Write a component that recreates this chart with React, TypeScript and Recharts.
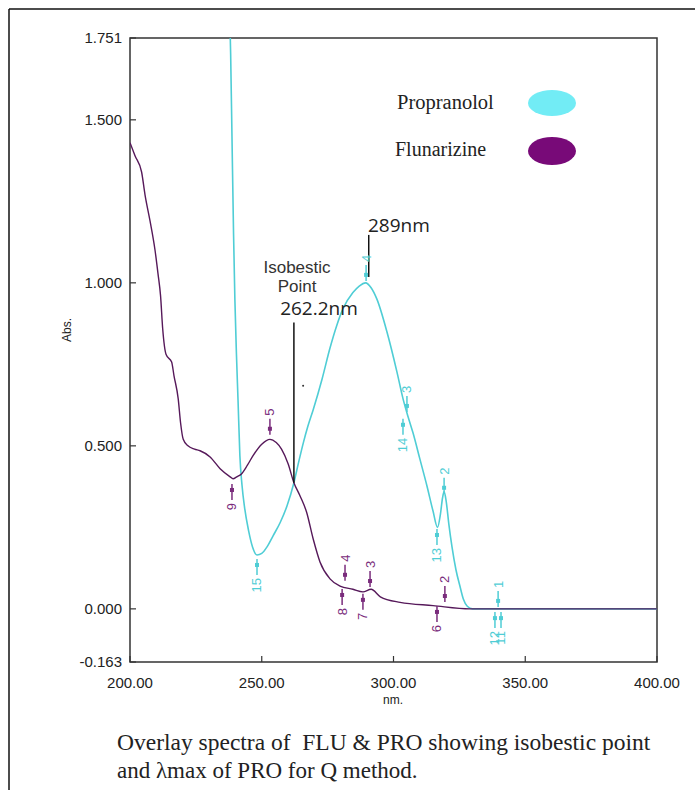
import {
  ComposedChart,
  Line,
  XAxis,
  YAxis,
  ReferenceArea,
  ReferenceDot,
  ReferenceLine,
} from 'recharts'

const wavelengthTicks = [200, 250, 300, 350, 400]
const absTicks = [-0.163, 0, 0.5, 1, 1.5, 1.751]

// Propranolol spectrum (cyan)
const proWl = [
  237.5, 238.2, 238.7, 239.3, 239.8, 240.4, 241.0, 241.7, 242.5, 243.5, 245.0, 246.5, 248.2, 250.0,
  252.0, 254.3, 257.0, 259.6, 262.2, 264.0, 265.8, 267.5, 269.5, 272.9, 275.9, 278.5, 280.8, 284.6,
  287.0, 289.4, 291.5, 293.7, 297.5, 301.3, 303.6, 305.5, 307.4, 310.0, 312.7, 315.0, 316.7, 317.8,
  318.6, 319.2, 320.0, 321.0, 322.2, 323.7, 325.2, 326.5, 328.0, 330.0, 340.0, 360.0, 400.0,
]
const proAbs = [
  1.95, 1.7, 1.45, 1.15, 0.95, 0.78, 0.64, 0.47, 0.38, 0.31, 0.24, 0.19, 0.165, 0.17,
  0.19, 0.224, 0.265, 0.316, 0.387, 0.45, 0.51, 0.56, 0.61, 0.705, 0.8, 0.87, 0.92, 0.97,
  0.99, 1.0, 0.985, 0.95, 0.85, 0.727, 0.645, 0.59, 0.54, 0.46, 0.377, 0.3, 0.25, 0.29,
  0.34, 0.36, 0.33, 0.26, 0.19, 0.12, 0.07, 0.03, 0.008, 0.0, 0.0, 0.0, 0.0,
]

// Flunarizine spectrum (purple)
const fluWl = [
  200.0, 201.9, 204.4, 205.7, 207.6, 209.5, 210.6, 211.6, 212.4, 213.7, 215.8, 216.7, 218.3, 219.2,
  220.2, 222.0, 224.5, 226.6, 230.4, 234.2, 238.0, 239.1, 240.5, 242.3, 244.5, 246.7, 250.0, 253.1,
  255.5, 257.5, 260.0, 262.2, 264.5, 267.0, 269.5, 272.1, 275.9, 279.7, 284.6, 288.4, 291.5, 295.0,
  302.5, 315.0, 329.0, 340.0, 400.0,
]
const fluAbs = [
  1.43, 1.39, 1.34, 1.27, 1.19, 1.1, 1.03, 0.96, 0.86, 0.78, 0.757, 0.715, 0.644, 0.57,
  0.52, 0.5, 0.49, 0.485, 0.466, 0.43, 0.405, 0.399, 0.405, 0.414, 0.44, 0.47, 0.505, 0.52,
  0.51, 0.49, 0.445, 0.387, 0.347, 0.297, 0.215, 0.144, 0.092, 0.07, 0.06, 0.052, 0.06, 0.037,
  0.02, 0.01, 0.0, 0.0, 0.0,
]

// peak / valley picks
const proPickLabels = ['4', '3', '14', '2', '13', '15', '1', '12', '11']
const proPickWl = [289.6, 305.1, 303.6, 319.2, 316.5, 248.2, 339.7, 338.5, 340.8]
const proPickAbs = [1.006, 0.604, 0.583, 0.353, 0.245, 0.153, 0.006, -0.01, -0.01]
const proPickSide = ['up', 'up', 'down', 'up', 'down', 'down', 'up', 'down', 'down']

const fluPickLabels = ['5', '9', '4', '8', '3', '7', '2', '6']
const fluPickWl = [253.1, 238.7, 281.6, 280.5, 291.1, 288.4, 319.5, 316.5]
const fluPickAbs = [0.534, 0.383, 0.086, 0.061, 0.067, 0.046, 0.021, 0.009]
const fluPickSide = ['up', 'down', 'up', 'down', 'up', 'down', 'up', 'down']

const CYAN = '#4fcdd5'
const PURPLE = '#56195a'
const PURPLE_TXT = '#7a2c7c'

const proData = proWl.map((wl, i) => ({ wl, abs: proAbs[i] }))
const fluData = fluWl.map((wl, i) => ({ wl, abs: fluAbs[i] }))

const pickShape = (color: string, label: string, side: string) => (p: any) => {
  const { cx, cy } = p
  const up = side === 'up'
  const y1 = up ? cy - 16 : cy + 16
  const sq = up ? cy - 6 : cy + 6
  const ty = up ? cy - 19 : cy + 19
  return (
    <g>
      <line x1={cx} x2={cx} y1={cy} y2={y1} stroke={color} strokeWidth={1.5} />
      <rect x={cx - 2} y={sq - 2} width={4} height={4} fill={color} />
      <text
        x={cx}
        y={ty}
        transform={`rotate(-90 ${cx} ${ty})`}
        textAnchor={up ? 'start' : 'end'}
        dominantBaseline="central"
        fontFamily="Liberation Sans, Arial"
        fontSize={13}
        fill={color}
      >
        {label}
      </text>
    </g>
  )
}

const XTick = (props: any) => {
  const { x, y, payload } = props
  return (
    <g>
      <line x1={x} x2={x} y1={y} y2={y - 6} stroke="#333" strokeWidth={1.2} />
      <text x={x} y={y + 26} textAnchor="middle" fontFamily="Liberation Sans, Arial" fontSize={15} fill="#222">
        {Number(payload.value).toFixed(2)}
      </text>
    </g>
  )
}

const YTick = (props: any) => {
  const { x, y, payload } = props
  return (
    <g>
      <line x1={x} x2={x + 6} y1={y} y2={y} stroke="#333" strokeWidth={1.2} />
      <text x={x - 8} y={y + 5} textAnchor="end" fontFamily="Liberation Sans, Arial" fontSize={15} fill="#222">
        {Number(payload.value).toFixed(3)}
      </text>
    </g>
  )
}

export default function App() {
  return (
    <div style={{ position: 'absolute', left: 0, top: 0, width: 695, height: 790, background: '#fff' }}>
      <div style={{ position: 'absolute', left: 0, top: 0 }}>
        <ComposedChart width={695} height={700} margin={{ top: 38, right: 38, bottom: 0, left: 0 }}>
          <XAxis
            dataKey="wl"
            type="number"
            domain={[200, 400]}
            ticks={wavelengthTicks}
            interval={0}
            height={38}
            axisLine={false}
            tickLine={false}
            tickSize={0}
            tickMargin={0}
            tick={<XTick />}
            allowDataOverflow
          />
          <YAxis
            type="number"
            domain={[-0.163, 1.751]}
            ticks={absTicks}
            interval={0}
            width={130}
            axisLine={false}
            tickLine={false}
            tickSize={0}
            tickMargin={0}
            tick={<YTick />}
            allowDataOverflow
          />
          <ReferenceArea
            x1={200}
            x2={400}
            y1={-0.163}
            y2={1.751}
            fill="none"
            fillOpacity={0}
            stroke="#333"
            strokeWidth={1.5}
            ifOverflow="visible"
          />
          <Line
            data={proData}
            dataKey="abs"
            type="monotone"
            stroke={CYAN}
            strokeWidth={1.6}
            dot={false}
            isAnimationActive={false}
          />
          <Line
            data={fluData}
            dataKey="abs"
            type="monotone"
            stroke={PURPLE}
            strokeWidth={1.4}
            dot={false}
            isAnimationActive={false}
          />
          <ReferenceLine
            segment={[{ x: 290.6, y: 1.147 }, { x: 290.6, y: 1.018 }]}
            stroke="#111"
            strokeWidth={1.5}
          />
          <ReferenceLine
            segment={[{ x: 262.2, y: 0.878 }, { x: 262.2, y: 0.387 }]}
            stroke="#111"
            strokeWidth={1.5}
          />
          <ReferenceDot x={265.7} y={0.684} r={1} fill="#333" stroke="none" />
          {proPickLabels.map((lab, i) => (
            <ReferenceDot
              key={'p' + i}
              x={proPickWl[i]}
              y={proPickAbs[i]}
              r={2}
              ifOverflow="visible"
              shape={pickShape(CYAN, lab, proPickSide[i])}
            />
          ))}
          {fluPickLabels.map((lab, i) => (
            <ReferenceDot
              key={'f' + i}
              x={fluPickWl[i]}
              y={fluPickAbs[i]}
              r={2}
              ifOverflow="visible"
              shape={pickShape(PURPLE_TXT, lab, fluPickSide[i])}
            />
          ))}
        </ComposedChart>
      </div>
      <svg
        width={695}
        height={790}
        style={{ position: 'absolute', left: 0, top: 0, pointerEvents: 'none' }}
      >
        <line x1={9} x2={695} y1={9} y2={9} stroke="#111" strokeWidth={1.5} />
        <line x1={9} x2={9} y1={9} y2={790} stroke="#111" strokeWidth={1.5} />

        <text x={397} y={109} fontFamily="Liberation Serif, Times New Roman" fontSize={20.5} fill="#222">
          Propranolol
        </text>
        <ellipse cx={552} cy={103} rx={24} ry={13} fill="#72ecf5" />
        <text x={395} y={156} fontFamily="Liberation Serif, Times New Roman" fontSize={20} fill="#222">
          Flunarizine
        </text>
        <ellipse cx={552} cy={151} rx={24} ry={14} fill="#780a78" />

        <text x={368} y={232} fontFamily="Open Sans, Liberation Sans" fontSize={19} fill="#222">
          289nm
        </text>
        <text x={297} y={273} textAnchor="middle" fontFamily="Liberation Sans, Arial" fontSize={17} fill="#333">
          Isobestic
        </text>
        <text x={297} y={292} textAnchor="middle" fontFamily="Liberation Sans, Arial" fontSize={17} fill="#333">
          Point
        </text>
        <text x={319} y={315} textAnchor="middle" fontFamily="Open Sans, Liberation Sans" fontSize={19} fill="#222">
          262.2nm
        </text>

        <text
          x={67}
          y={330}
          transform="rotate(-90 67 330)"
          textAnchor="middle"
          dominantBaseline="central"
          fontFamily="Liberation Sans, Arial"
          fontSize={12}
          fill="#222"
        >
          Abs.
        </text>
        <text x={393} y={704} textAnchor="middle" fontFamily="Liberation Sans, Arial" fontSize={12} fill="#222">
          nm.
        </text>

        <text
          x={117}
          y={750}
          fontFamily="Liberation Serif, Times New Roman"
          fontSize={23.5}
          fill="#222"
          style={{ whiteSpace: 'pre' }}
        >
          {'Overlay spectra of  FLU & PRO showing isobestic point'}
        </text>
        <text x={117} y={778} fontFamily="Liberation Serif, Times New Roman" fontSize={23} fill="#222">
          and λmax of PRO for Q method.
        </text>
      </svg>
    </div>
  )
}
